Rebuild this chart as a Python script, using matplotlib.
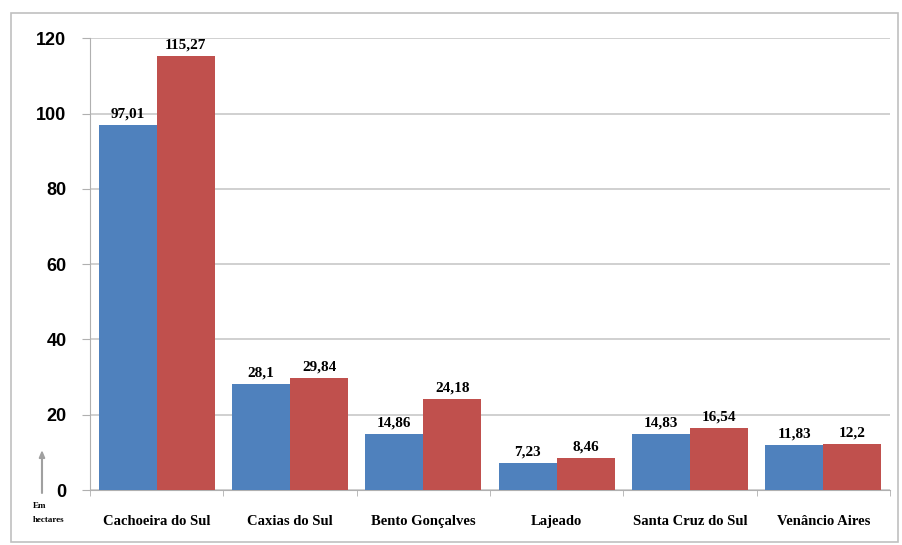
import numpy as np
import matplotlib.pyplot as plt
from matplotlib.patches import Rectangle, FancyArrow

cities = ['Cachoeira do Sul', 'Caxias do Sul', 'Bento Gonçalves', 'Lajeado',
          'Santa Cruz do Sul', 'Venâncio Aires']
serie_a = [97.01, 28.1, 14.86, 7.23, 14.83, 11.83]
serie_b = [115.27, 29.84, 24.18, 8.46, 16.54, 12.2]
yticks = [0, 20, 40, 60, 80, 100, 120]

blue = '#4F81BD'
red = '#C0504D'

def fmt(v):
    s = ('%.2f' % v).rstrip('0').rstrip('.')
    return s.replace('.', ',')

fig = plt.figure(figsize=(9.03, 5.45), dpi=100)
ax = fig.add_axes([0.0997, 0.1009, 0.886, 0.829])

x = np.arange(len(cities))
w = 0.435
b1 = ax.bar(x - w / 2, serie_a, w, color=blue, zorder=3)
b2 = ax.bar(x + w / 2, serie_b, w, color=red, zorder=3)

for bars, vals in [(b1, serie_a), (b2, serie_b)]:
    for r, v in zip(bars, vals):
        ax.text(r.get_x() + r.get_width() / 2, v + 1.2, fmt(v), ha='center', va='bottom',
                fontsize=11, fontweight='bold', family='Liberation Serif')

ax.set_xlim(-0.5, len(cities) - 0.5)
ax.set_ylim(0, 120)
ax.set_yticks(yticks)
ax.set_yticklabels([str(t) for t in yticks], fontsize=13, fontweight='bold',
                   family='Liberation Sans')
ax.yaxis.grid(True, color='#c8c8c8', linewidth=1.2, zorder=0)
ax.set_axisbelow(True)

ax.set_xticks(x)
ax.set_xticklabels(cities, fontsize=10.5, fontweight='bold', family='Liberation Serif')
ax.tick_params(axis='x', length=0, pad=18)
ax.set_xticks(np.arange(-0.5, len(cities)), minor=True)
ax.tick_params(axis='x', which='minor', length=4, color='#b0b0b0')
ax.tick_params(axis='y', length=6, color='#b0b0b0', pad=11)

for s in ['top', 'right']:
    ax.spines[s].set_visible(False)
ax.spines['left'].set_color('#b0b0b0')
ax.spines['bottom'].set_color('#b0b0b0')

# unit note with arrow
fig.text(0.036, 0.078, 'Em\nhectares', fontsize=6.5, fontweight='bold', family='Liberation Serif',
         va='top', ha='left', linespacing=2.0)
fig.patches.append(FancyArrow(
    0.0465, 0.095, 0, 0.064, width=0.0008, head_width=0.006, head_length=0.012,
    color='#a0a0a0', transform=fig.transFigure, figure=fig))

# outer frame
fig.patches.append(Rectangle((0.012, 0.005), 0.982, 0.972, fill=False, edgecolor='#c0c0c0',
                             linewidth=1.2, transform=fig.transFigure, figure=fig))

fig.savefig('out.png', dpi=100)
